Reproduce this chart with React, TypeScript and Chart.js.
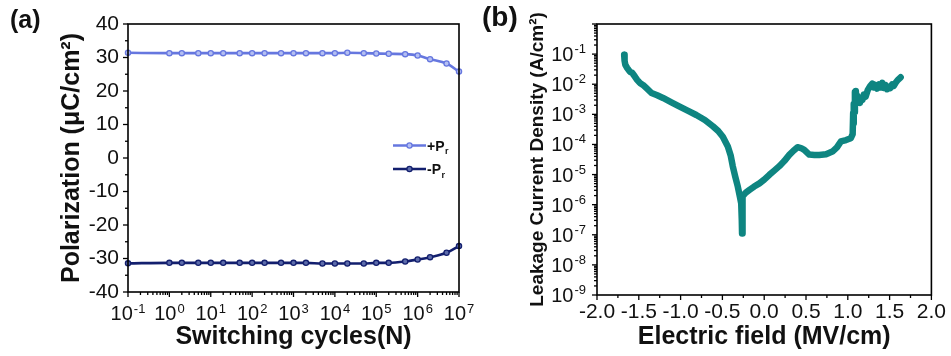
import React, { useEffect, useRef } from 'react';
import { Chart, registerables } from 'chart.js';
Chart.register(...registerables);

const FONT = "'Liberation Sans', Arial, Helvetica, sans-serif";

// Panel (a): polarization vs switching cycles
const cycles = [0.1, 1, 2, 5, 10, 20, 50, 100, 200, 500, 1e3, 2e3, 5e3, 1e4, 2e4, 5e4, 1e5, 2e5, 5e5, 1e6, 2e6, 5e6, 1e7];
const posPr = [31.4, 31.3, 31.3, 31.3, 31.3, 31.3, 31.3, 31.3, 31.3, 31.3, 31.3, 31.3, 31.3, 31.3, 31.4, 31.3, 31.2, 31.1, 31.0, 30.6, 29.5, 28.2, 25.8];
const negPr = [-31.45, -31.3, -31.3, -31.3, -31.3, -31.3, -31.3, -31.3, -31.3, -31.3, -31.3, -31.3, -31.5, -31.5, -31.5, -31.5, -31.3, -31.3, -30.9, -30.3, -29.6, -28.3, -26.3];
const cycleExps = [-1, 0, 1, 2, 3, 4, 5, 6, 7];
const legendLabels = ['+P', '-P'];

// Panel (b): leakage current density vs electric field
const fieldE = [-1.675, -1.67, -1.662, -1.64, -1.607, -1.58, -1.547, -1.52, -1.487, -1.45, -1.408, -1.348, -1.28, -1.21, -1.11, -1.011, -0.91, -0.812, -0.71, -0.614, -0.55, -0.495, -0.435, -0.40, -0.376, -0.346, -0.316, -0.29, -0.275, -0.268, -0.265, -0.262, -0.256, -0.22, -0.176, -0.12, -0.057, 0.0, 0.062, 0.12, 0.181, 0.24, 0.30, 0.35, 0.399, 0.44, 0.479, 0.539, 0.60, 0.658, 0.74, 0.816, 0.87, 0.917, 0.98, 1.036, 1.058, 1.064, 1.068, 1.074, 1.079, 1.085, 1.09, 1.096, 1.102, 1.11, 1.12, 1.13, 1.145, 1.16, 1.175, 1.19, 1.214, 1.24, 1.265, 1.293, 1.31, 1.33, 1.35, 1.373, 1.39, 1.412, 1.43, 1.45, 1.47, 1.492, 1.51, 1.53, 1.55, 1.572, 1.60, 1.632];
const leakJ = [0.095, 0.06, 0.045, 0.035, 0.026, 0.024, 0.018, 0.014, 0.011, 0.0095, 0.0074, 0.0051, 0.0043, 0.0035, 0.0025, 0.0018, 0.0013, 9.5e-4, 6.5e-4, 4.0e-4, 2.8e-4, 1.8e-4, 8.5e-5, 4.2e-5, 1.9e-5, 8.5e-6, 4.0e-6, 1.8e-6, 1.1e-6, 3.0e-7, 1.1e-7, 5.0e-7, 1.9e-6, 2.5e-6, 3.1e-6, 4.0e-6, 5.1e-6, 6.8e-6, 9.8e-6, 1.35e-5, 1.9e-5, 2.8e-5, 4.5e-5, 6.2e-5, 8.1e-5, 7.6e-5, 6.6e-5, 4.6e-5, 4.5e-5, 4.5e-5, 4.7e-5, 5.8e-5, 8.0e-5, 1.26e-4, 1.4e-4, 1.6e-4, 2.2e-4, 1.1e-3, 5.0e-4, 2.2e-3, 1.2e-3, 5.5e-3, 2.4e-3, 6.0e-3, 3.0e-3, 4.2e-3, 2.6e-3, 3.4e-3, 2.4e-3, 3.6e-3, 3.0e-3, 4.5e-3, 3.9e-3, 6.5e-3, 8.5e-3, 0.0105, 0.0078, 0.0095, 0.0072, 0.0098, 0.0078, 0.0112, 0.0075, 0.0095, 0.0068, 0.0082, 0.0075, 0.0098, 0.0088, 0.0112, 0.014, 0.017];
const leakExps = [-9, -8, -7, -6, -5, -4, -3, -2, -1];

const POS_COLOR = '#6677df';
const POS_FILL = '#b4bff2';
const NEG_COLOR = '#131f6e';
const NEG_FILL = '#5d6cab';
const TEAL = '#0e8581';
const TEXT = '#111';

function drawPow(ctx: CanvasRenderingContext2D, x: number, baseline: number, exp: number, align: 'center' | 'right', baseSize: number, expSize: number, rise: number) {
  ctx.textAlign = 'left';
  ctx.textBaseline = 'alphabetic';
  ctx.font = `${baseSize}px ${FONT}`;
  const wb = ctx.measureText('10').width;
  ctx.font = `${expSize}px ${FONT}`;
  const es = String(exp);
  const we = ctx.measureText(es).width;
  const total = wb + 1 + we;
  const start = align === 'center' ? x - total / 2 : x - total;
  ctx.font = `${baseSize}px ${FONT}`;
  ctx.fillText('10', start, baseline);
  ctx.font = `${expSize}px ${FONT}`;
  ctx.fillText(es, start + wb + 1, baseline - rise);
}

function tick(ctx: CanvasRenderingContext2D, x1: number, y1: number, x2: number, y2: number) {
  ctx.beginPath();
  ctx.moveTo(x1, y1);
  ctx.lineTo(x2, y2);
  ctx.stroke();
}

const decorA = {
  id: 'decorA',
  afterDraw(chart: any) {
    const { ctx, chartArea: ca, scales } = chart;
    const xs = scales.x, ys = scales.y;
    ctx.save();
    ctx.strokeStyle = '#000';
    ctx.lineWidth = 1.6;
    ctx.strokeRect(ca.left, ca.top, ca.right - ca.left, ca.bottom - ca.top);
    ctx.lineWidth = 1.3;
    for (let v = -40; v <= 40; v += 5) {
      const py = ys.getPixelForValue(v);
      const len = v % 10 === 0 ? 5 : 3;
      tick(ctx, ca.left - len, py, ca.left, py);
    }
    for (let i = 0; i < cycleExps.length; i++) {
      const e = cycleExps[i];
      const base = Math.pow(10, e);
      const px = xs.getPixelForValue(base);
      tick(ctx, px, ca.bottom, px, ca.bottom + 5);
      if (i < cycleExps.length - 1) {
        for (let m = 2; m <= 9; m++) {
          const mx = xs.getPixelForValue(m * base);
          tick(ctx, mx, ca.bottom, mx, ca.bottom + 3);
        }
      }
    }
    ctx.fillStyle = TEXT;
    for (const e of cycleExps) {
      drawPow(ctx, xs.getPixelForValue(Math.pow(10, e)), ca.bottom + 28, e, 'center', 20, 13, 7);
    }
    // legend
    const items = [
      { label: legendLabels[0], color: POS_COLOR, fill: POS_FILL, y: 145.5 },
      { label: legendLabels[1], color: NEG_COLOR, fill: NEG_FILL, y: 169 },
    ];
    for (const it of items) {
      ctx.strokeStyle = it.color;
      ctx.lineWidth = 2.6;
      tick(ctx, 393, it.y, 426, it.y);
      ctx.beginPath();
      ctx.arc(409.5, it.y, 2.6, 0, Math.PI * 2);
      ctx.fillStyle = it.fill;
      ctx.fill();
      ctx.lineWidth = 1.3;
      ctx.stroke();
      ctx.fillStyle = TEXT;
      ctx.textAlign = 'left';
      ctx.textBaseline = 'alphabetic';
      ctx.font = `bold 14px ${FONT}`;
      ctx.fillText(it.label, 427, it.y + 5);
      const w = ctx.measureText(it.label).width;
      ctx.font = `bold 9px ${FONT}`;
      ctx.fillText('r', 427 + w + 0.5, it.y + 8.5);
    }
    ctx.restore();
  },
};

const decorB = {
  id: 'decorB',
  afterDraw(chart: any) {
    const { ctx, chartArea: ca, scales } = chart;
    const xs = scales.x, ys = scales.y;
    ctx.save();
    ctx.strokeStyle = '#000';
    ctx.lineWidth = 1.6;
    ctx.strokeRect(ca.left, ca.top, ca.right - ca.left, ca.bottom - ca.top);
    ctx.lineWidth = 1.3;
    for (let k = -8; k <= 8; k++) {
      const v = k * 0.25;
      const px = xs.getPixelForValue(v);
      const len = k % 2 === 0 ? 5 : 3;
      tick(ctx, px, ca.bottom, px, ca.bottom + len);
    }
    const allExps = [...leakExps, 0];
    for (let i = 0; i < allExps.length; i++) {
      const base = Math.pow(10, allExps[i]);
      const py = ys.getPixelForValue(base);
      tick(ctx, ca.left - 5, py, ca.left, py);
      if (i < allExps.length - 1) {
        for (let m = 2; m <= 9; m++) {
          const my = ys.getPixelForValue(m * base);
          tick(ctx, ca.left - 3, my, ca.left, my);
        }
      }
    }
    ctx.fillStyle = TEXT;
    for (const e of leakExps) {
      drawPow(ctx, ca.left - 11, ys.getPixelForValue(Math.pow(10, e)) + 7, e, 'right', 20, 13, 8);
    }
    ctx.restore();
  },
};

export default function App() {
  const refA = useRef<HTMLCanvasElement>(null);
  const refB = useRef<HTMLCanvasElement>(null);

  useEffect(() => {
    const chartA = new Chart(refA.current as HTMLCanvasElement, {
      type: 'line',
      data: {
        datasets: [
          {
            label: '+Pr',
            data: cycles.map((c, i) => ({ x: c, y: posPr[i] })),
            borderColor: POS_COLOR,
            backgroundColor: POS_FILL,
            pointBackgroundColor: POS_FILL,
            pointBorderColor: POS_COLOR,
            pointRadius: 2.6,
            pointBorderWidth: 1.3,
            borderWidth: 2.6,
            cubicInterpolationMode: 'monotone',
            clip: 4,
          },
          {
            label: '-Pr',
            data: cycles.map((c, i) => ({ x: c, y: negPr[i] })),
            borderColor: NEG_COLOR,
            backgroundColor: NEG_FILL,
            pointBackgroundColor: NEG_FILL,
            pointBorderColor: NEG_COLOR,
            pointRadius: 2.6,
            pointBorderWidth: 1.3,
            borderWidth: 2.6,
            cubicInterpolationMode: 'monotone',
            clip: 4,
          },
        ],
      },
      options: {
        responsive: false,
        animation: false,
        devicePixelRatio: 1,
        layout: { padding: { left: 0, top: 24, right: 21, bottom: 0 } },
        plugins: { legend: { display: false }, tooltip: { enabled: false } },
        scales: {
          x: {
            type: 'logarithmic',
            min: 0.1,
            max: 1e7,
            grid: { display: false, drawTicks: false },
            border: { display: false },
            ticks: { display: false },
            title: {
              display: true,
              text: 'Switching cycles(N)',
              color: TEXT,
              font: { family: FONT, size: 25, weight: 'bold' },
              padding: { top: 0, bottom: 4 },
            },
            afterFit: (s: any) => { s.height = 64; },
          },
          y: {
            type: 'linear',
            min: -40,
            max: 40,
            grid: { display: false, drawTicks: false },
            border: { display: false },
            ticks: { stepSize: 10, color: TEXT, padding: 9, font: { family: FONT, size: 21 } },
            title: {
              display: true,
              text: 'Polarization (μC/cm²)',
              color: TEXT,
              font: { family: FONT, size: 25, weight: 'bold' },
              padding: { top: 57, bottom: 0 },
            },
            afterFit: (s: any) => { s.width = 128; },
          },
        },
      } as any,
      plugins: [decorA],
    });

    const chartB = new Chart(refB.current as HTMLCanvasElement, {
      type: 'line',
      data: {
        datasets: [
          {
            label: 'J',
            data: fieldE.map((e, i) => ({ x: e, y: leakJ[i] })),
            borderColor: TEAL,
            backgroundColor: TEAL,
            borderWidth: 6.5,
            pointRadius: 0,
            borderJoinStyle: 'round',
            borderCapStyle: 'round',
            tension: 0,
          },
        ],
      },
      options: {
        responsive: false,
        animation: false,
        devicePixelRatio: 1,
        layout: { padding: { left: 0, top: 24, right: 19, bottom: 0 } },
        plugins: { legend: { display: false }, tooltip: { enabled: false } },
        scales: {
          x: {
            type: 'linear',
            min: -2,
            max: 2,
            grid: { display: false, drawTicks: false },
            border: { display: false },
            ticks: {
              stepSize: 0.5,
              autoSkip: false,
              maxRotation: 0,
              color: TEXT,
              padding: 5,
              font: { family: FONT, size: 21 },
              callback: (v: any) => Number(v).toFixed(1),
            },
            title: {
              display: true,
              text: 'Electric field (MV/cm)',
              color: TEXT,
              font: { family: FONT, size: 25, weight: 'bold' },
              padding: { top: 0, bottom: 4 },
            },
            afterFit: (s: any) => { s.height = 61; },
          },
          y: {
            type: 'logarithmic',
            min: 1e-9,
            max: 1,
            grid: { display: false, drawTicks: false },
            border: { display: false },
            ticks: { display: false },
            title: {
              display: true,
              text: 'Leakage Current Density (A/cm²)',
              color: TEXT,
              font: { family: FONT, size: 19, weight: 'bold' },
              padding: { top: 46, bottom: 0 },
            },
            afterFit: (s: any) => { s.width = 117; },
          },
        },
      } as any,
      plugins: [decorB],
    });

    return () => {
      chartA.destroy();
      chartB.destroy();
    };
  }, []);

  return (
    <div style={{ position: 'fixed', left: 0, top: 0, width: 951, height: 356, background: '#fff', overflow: 'hidden' }}>
      <canvas ref={refA} width={480} height={356} style={{ position: 'absolute', left: 0, top: 0, width: 480, height: 356 }} />
      <canvas ref={refB} width={471} height={356} style={{ position: 'absolute', left: 480, top: 0, width: 471, height: 356 }} />
      <div style={{ position: 'absolute', left: 10, top: 7, fontFamily: FONT, fontWeight: 'bold', fontSize: 25, lineHeight: '25px', color: TEXT }}>(a)</div>
      <div style={{ position: 'absolute', left: 482, top: 3, fontFamily: FONT, fontWeight: 'bold', fontSize: 28, lineHeight: '28px', color: TEXT }}>(b)</div>
    </div>
  );
}
